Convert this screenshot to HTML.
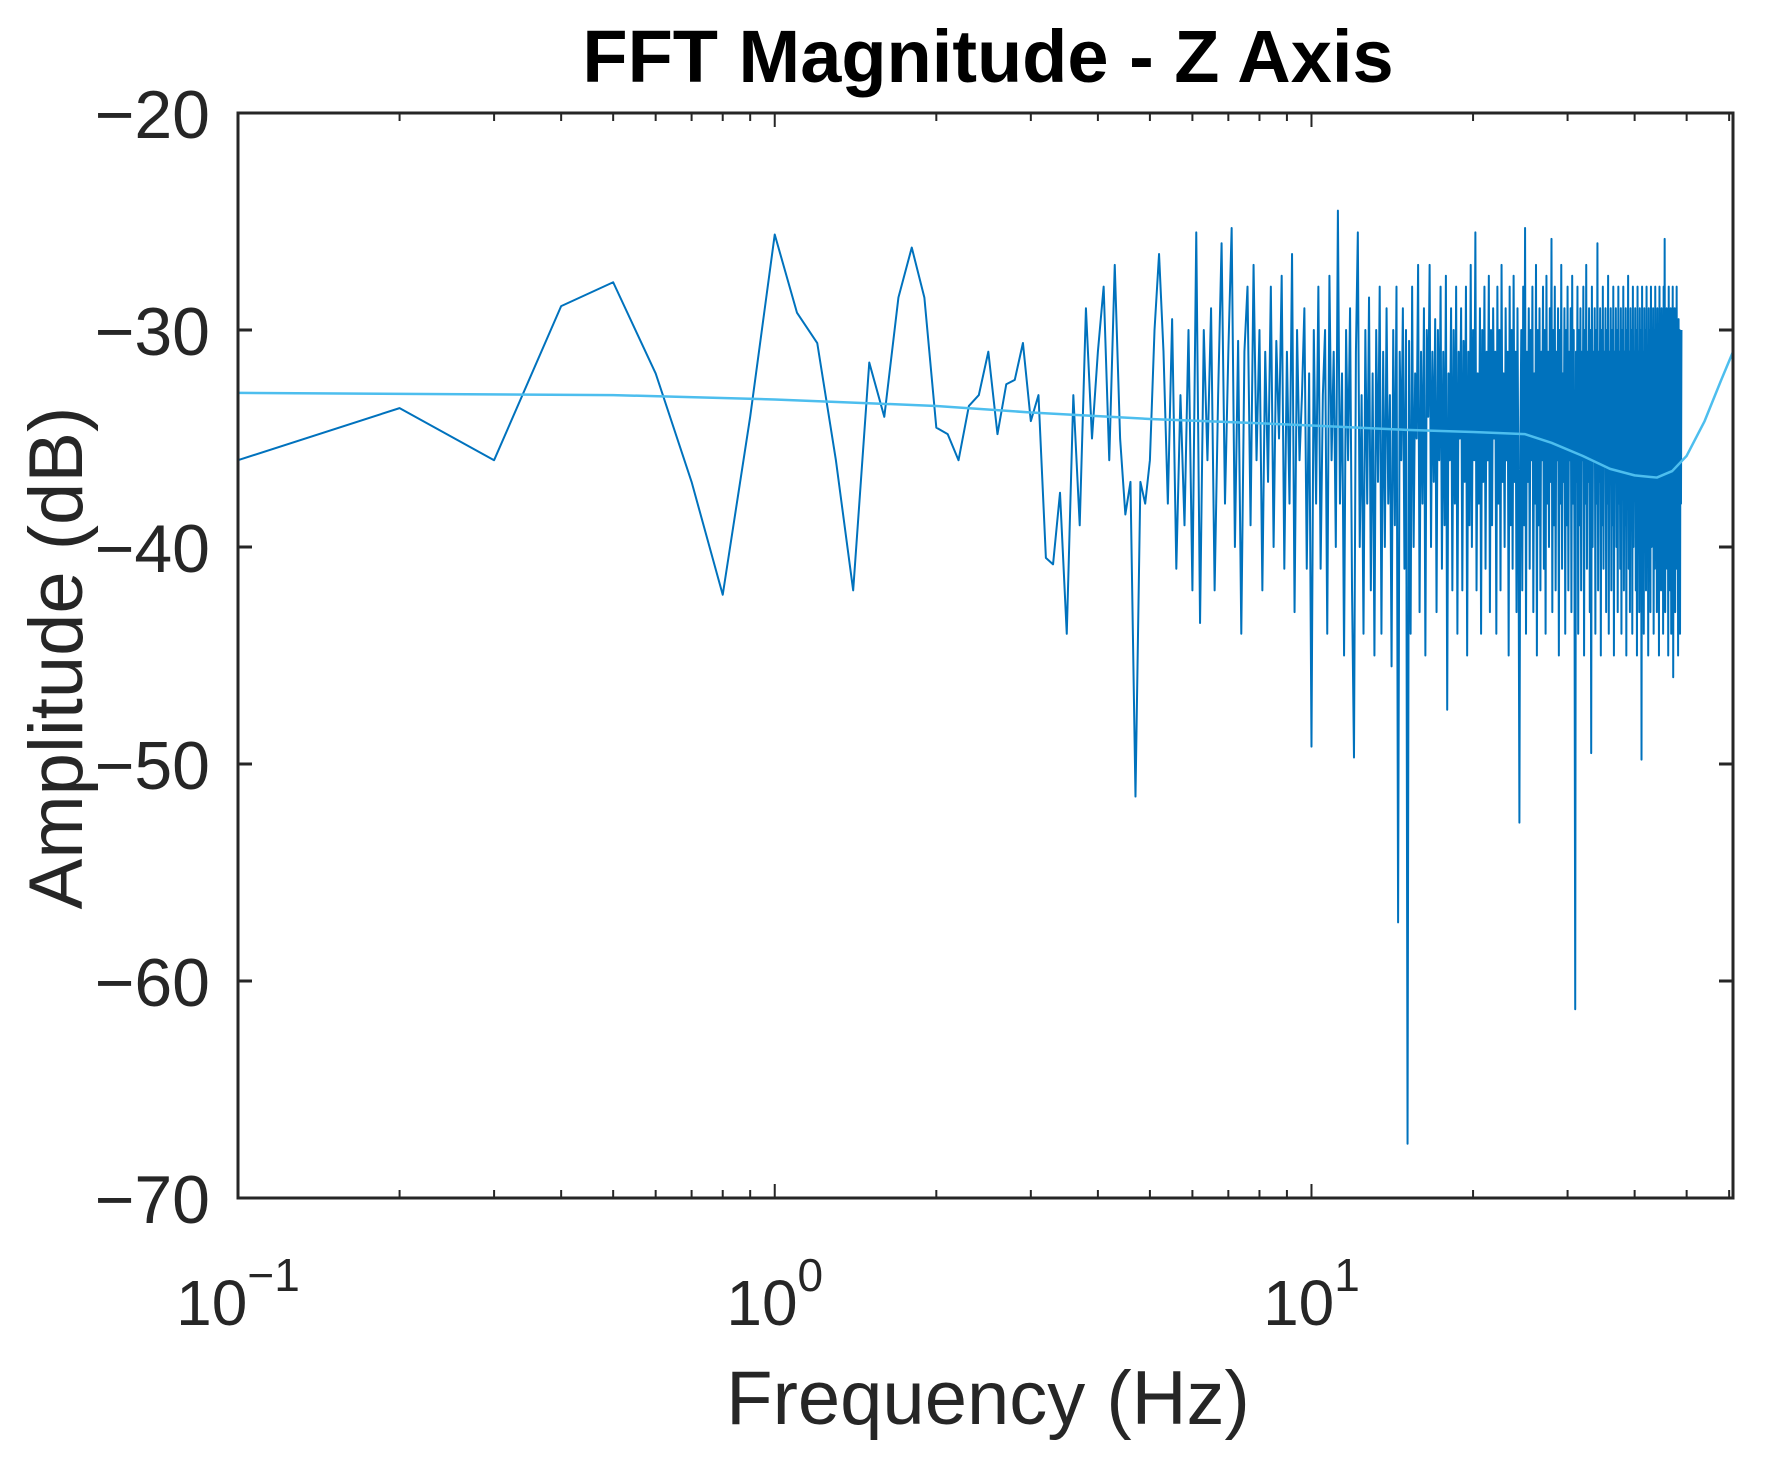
<!DOCTYPE html>
<html><head><meta charset="utf-8"><style>
html,body{margin:0;padding:0;background:#fff;}
svg{display:block;font-family:"Liberation Sans",Arial,sans-serif;}
</style></head><body>
<svg id="chart" width="1766" height="1470" viewBox="0 0 1766 1470" xmlns="http://www.w3.org/2000/svg">
<rect width="1766" height="1470" fill="#fff"/>
<text x="988" y="82" text-anchor="middle" font-size="74" font-weight="bold" fill="#000">FFT Magnitude - Z Axis</text>
<g id="plot"></g>
<g id="axes"></g>
<text x="988" y="1424" text-anchor="middle" font-size="76" fill="#262626">Frequency (Hz)</text>
<text transform="translate(82,658) rotate(-90)" text-anchor="middle" font-size="76" fill="#262626">Amplitude (dB)</text>
</svg>
<script>
const df = 0.1;
const amplitudeDb = [
-36,-33.6,-36,-28.9,-27.8,-32,-37,-42.2,-34,
-25.6,-29.2,-30.6,-36,-42,-31.5,-34,-28.5,-26.2,-28.5,
-34.5,-34.8,-36,-33.5,-33,-31,-34.8,-32.5,-32.3,-30.6,
-34.2,-33,-40.5,-40.8,-37.5,-44,-33,-39,-29,-35,
-31,-28,-36,-27,-35,-38.5,-37,-51.5,-37,-38,
-36,-30,-26.5,-31,-38,-29.5,-41,-33,-39,-30,
-42,-25.5,-43.5,-30,-36,-29,-42,-33,-26,-38,
-31,-25.3,-40,-30.5,-44,-31,-28,-39,-27,-36,
-30,-42,-31,-37,-28,-40,-30.5,-35,-27.5,-41,
-31,-38,-26.5,-43,-30,-36,-33,-29,-41,-32,
-49.2,-30,-38,-28,-41,-33,-30,-44,-27.5,-36,
-31,-40,-24.5,-38,-32,-45,-30,-36,-29,-42,
-49.7,-31,-25.5,-40,-33,-44,-30,-38,-28.5,-42,
-32,-45,-30,-37,-28,-44,-31,-40,-29,-38,
-33,-45.5,-30,-39,-28,-57.3,-31,-36,-29,-41,
-30,-67.5,-30.5,-44,-28,-40,-32,-35,-27,-43,
-31,-38,-29,-45,-30,-34,-27,-40,-31,-37,
-29.5,-43,-30,-36,-28,-41,-31,-39,-27.5,-47.5,
-32,-36,-29,-42,-30,-38,-28,-44,-31,-35,
-29,-42,-30.5,-37,-28,-45,-31,-39,-27,-40,
-30,-36,-25.5,-42,-32,-38,-29,-44,-30,-37,
-28,-41,-31,-36,-27.5,-43,-30,-39,-29,-35,
-31,-44,-28,-38,-30,-42,-27,-37,-32,-40,
-29,-36,-31,-45,-28,-39,-30,-41,-27.5,-37,
-31,-43,-29,-38,-52.7,-35,-30,-42,-28,-39,
-25.3,-44,-31,-37,-29,-41,-30,-36,-28,-43,
-32,-38,-27,-45,-30,-39,-29,-42,-31,-36,
-28,-41,-30,-44,-27.5,-38,-31,-40,-29,-37,
-25.8,-43,-30,-39,-28,-42,-31,-36,-29,-45,
-30,-38,-27,-41,-32,-37,-29,-44,-30,-39,
-28,-42,-31,-36,-29,-43,-27.5,-38,-30,-40,
-61.3,-31,-37,-28,-44,-30,-39,-29,-42,-31,
-36,-28,-45,-30,-38,-27,-41,-31,-37,-29,
-43,-30,-49.5,-28,-40,-31,-36,-29,-44,-30,
-38,-26,-42,-31,-37,-29,-45,-30,-39,-28,
-41,-31,-36,-29,-43,-30,-38,-27.5,-44,-31,
-37,-29,-42,-30,-39,-28,-45,-31,-36,-29,
-40,-30,-43,-28,-38,-31,-41,-29,-44,-30,
-37,-28,-42,-31,-39,-29,-45,-30,-36,-27.5,
-41,-31,-43,-29,-38,-30,-44,-28,-40,-31,
-37,-29,-42,-30,-45,-28,-39,-31,-43,-29,
-38,-30,-49.8,-28,-41,-31,-44,-29,-37,-30,
-42,-28,-39,-31,-45,-29,-38,-30,-43,-28,
-40,-31,-36,-29,-44,-30,-41,-28,-38,-31,
-43,-29,-39,-30,-45,-28,-37,-31,-42,-29,
-38,-30,-44,-28,-40,-25.8,-43,-31,-39,-29,
-41,-30,-45,-28,-38,-31,-42,-29,-44,-30,
-37,-28,-46,-31,-40,-29,-43,-30,-41,-28,
-39,-31,-45,-29.5,-42,-30,-44,-31,-38,-30
];
const smoothFreq = [0.1,0.5,1,2,3,5,8,10,15,20,25,28,32,36,40,44,47,50,54,58,61];
const smoothDb = [-32.9,-33.0,-33.2,-33.5,-33.8,-34.1,-34.3,-34.4,-34.6,-34.7,-34.8,-35.2,-35.8,-36.4,-36.7,-36.8,-36.5,-35.8,-34.2,-32.3,-31.0];
const yTicks = [-20,-30,-40,-50,-60,-70];
const xDecades = [-1,0,1];

const L=238,R=1733,T=113,B=1198;
const xMin=Math.log10(0.1), xMax=Math.log10(61);
const xs=f=>L+(Math.log10(f)-xMin)/(xMax-xMin)*(R-L);
const ys=v=>T+(-20-v)/50*(B-T);
const NS="http://www.w3.org/2000/svg";
const plot=document.getElementById('plot'), axes=document.getElementById('axes');
function mk(tag,attrs,parent){const e=document.createElementNS(NS,tag);for(const k in attrs)e.setAttribute(k,attrs[k]);parent.appendChild(e);return e;}

const clip=mk('clipPath',{id:'clip'},plot); mk('rect',{x:L,y:T,width:R-L,height:B-T},clip);

const pts=amplitudeDb.map((v,i)=>xs((i+1)*df).toFixed(2)+','+ys(v).toFixed(2)).join(' ');
const fft=mk('polyline',{points:pts,fill:'none',stroke:'#0072bd','stroke-width':2,'stroke-linejoin':'round','clip-path':'url(#clip)'},plot);



const sp=smoothFreq.map((f,i)=>xs(f).toFixed(2)+','+ys(smoothDb[i]).toFixed(2)).join(' ');
const sm=mk('polyline',{points:sp,fill:'none',stroke:'#4dbeee','stroke-width':2.5,'stroke-linejoin':'round','clip-path':'url(#clip)'},plot);



const box=mk('rect',{x:L,y:T,width:R-L,height:B-T,fill:'none',stroke:'#262626','stroke-width':3},axes);



yTicks.forEach(v=>{
  const y=ys(v);
  mk('line',{x1:L,x2:L+14,y1:y,y2:y,stroke:'#262626','stroke-width':3},axes);
  mk('line',{x1:R,x2:R-14,y1:y,y2:y,stroke:'#262626','stroke-width':3},axes);
  const t=mk('text',{x:210,y:y+25,'text-anchor':'end','font-size':68,fill:'#262626'},axes);
  t.textContent='\u2212'+Math.abs(v);
  
  
});
for(let d=-1;d<=1;d++){
  for(let m=1;m<10;m++){
    const f=m*Math.pow(10,d); if(f>61) break;
    const x=xs(f), len=m===1?14:8;
    mk('line',{x1:x,x2:x,y1:B,y2:B-len,stroke:'#262626','stroke-width':2},axes);
    mk('line',{x1:x,x2:x,y1:T,y2:T+len,stroke:'#262626','stroke-width':2},axes);
  }
}
xDecades.forEach(d=>{
  const x=xs(Math.pow(10,d));
  const t=mk('text',{x:x,y:1325,'text-anchor':'middle','font-size':64,fill:'#262626'},axes);
  t.textContent='10';
  const s=mk('tspan',{dy:-34,'font-size':46},t);
  s.textContent=d<0?'\u22121':String(d);
  
  
});
</script>
</body></html>
